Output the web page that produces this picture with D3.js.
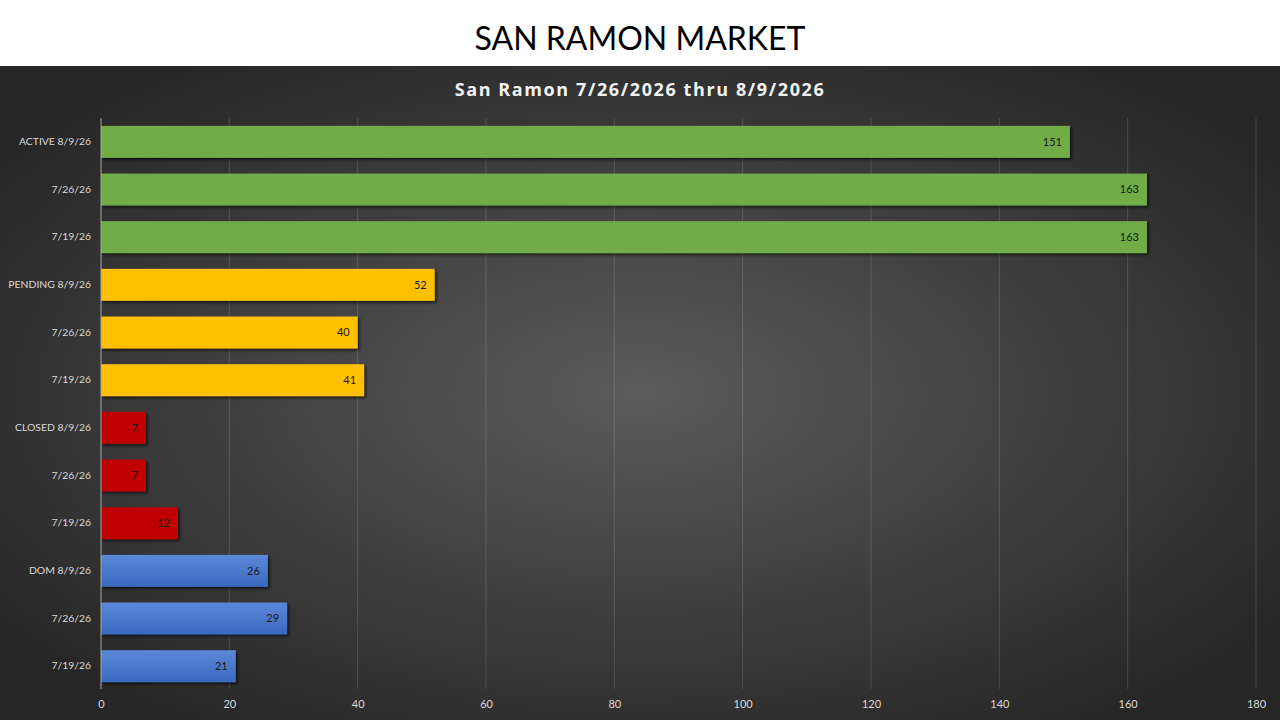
<!DOCTYPE html>
<html lang="en">
<head>
    <meta charset="UTF-8">
    <title>San Ramon Market</title>
    <style>
        html, body { margin: 0; padding: 0; background: #fff; }
        svg { display: block; }
    </style>
</head>
<body>
    <script src="https://cdn.jsdelivr.net/npm/d3@7/dist/d3.min.js"></script>
    <script type="text/javascript">
        // chart data
        var categories = ["ACTIVE 8/9/26", "7/26/26", "7/19/26",
                          "PENDING 8/9/26", "7/26/26", "7/19/26",
                          "CLOSED 8/9/26", "7/26/26", "7/19/26",
                          "DOM 8/9/26", "7/26/26", "7/19/26"];
        var values = [151, 163, 163, 52, 40, 41, 7, 7, 12, 26, 29, 21];
        var groups = ["active", "active", "active", "pending", "pending", "pending",
                      "closed", "closed", "closed", "dom", "dom", "dom"];
        var xTicks = [0, 20, 40, 60, 80, 100, 120, 140, 160, 180];

        var w = 1280, h = 720;
        var bandTop = 66;

        var svg = d3.select("body").append("svg")
            .attr("width", w)
            .attr("height", h);

        var defs = svg.append("defs");

        var bg = defs.append("radialGradient")
            .attr("id", "bg")
            .attr("cx", "50%").attr("cy", "50%").attr("r", "62%");
        bg.append("stop").attr("offset", "0%").attr("stop-color", "#5b5b5b");
        bg.append("stop").attr("offset", "100%").attr("stop-color", "#262626");

        var blue = defs.append("linearGradient")
            .attr("id", "blueGrad")
            .attr("x1", 0).attr("y1", 0).attr("x2", 0).attr("y2", 1);
        blue.append("stop").attr("offset", "0%").attr("stop-color", "#5b88d8");
        blue.append("stop").attr("offset", "100%").attr("stop-color", "#3b69bf");

        var shadow = defs.append("filter").attr("id", "shadow")
            .attr("x", "-5%").attr("y", "-20%").attr("width", "115%").attr("height", "160%");
        shadow.append("feDropShadow")
            .attr("dx", 2).attr("dy", 2).attr("stdDeviation", 1.5)
            .attr("flood-color", "#000").attr("flood-opacity", 0.6);

        // white title band
        svg.append("rect")
            .attr("x", 0).attr("y", 0)
            .attr("width", w).attr("height", bandTop)
            .attr("fill", "#ffffff");

        svg.append("text")
            .text("SAN RAMON MARKET")
            .attr("x", w / 2)
            .attr("y", 50)
            .attr("text-anchor", "middle")
            .attr("font-family", "Lato, 'Open Sans', sans-serif")
            .attr("font-size", "32px")
            .attr("fill", "#000");

        // dark chart area
        svg.append("rect")
            .attr("x", 0).attr("y", bandTop)
            .attr("width", w).attr("height", h - bandTop)
            .attr("fill", "url(#bg)");

        svg.append("text")
            .text("San Ramon 7/26/2026 thru 8/9/2026")
            .attr("x", w / 2)
            .attr("y", 96)
            .attr("text-anchor", "middle")
            .attr("font-family", "'Open Sans', sans-serif")
            .attr("font-weight", "bold")
            .attr("font-size", "18px")
            .attr("letter-spacing", "1.6px")
            .attr("fill", "#f2f2f2");

        var colors = {
            active: "#70ad47",
            pending: "#ffc000",
            closed: "#c00000",
            dom: "url(#blueGrad)"
        };

        var x = d3.scaleLinear().domain([0, 180]).range([101, 1256]);
        var y = d3.scaleBand()
            .domain(d3.range(categories.length))
            .range([118, 690])
            .paddingInner(0.33)
            .paddingOuter(0.165);

        // vertical gridlines
        svg.append("g")
            .selectAll("line")
            .data(xTicks.slice(1))
            .enter()
            .append("line")
            .attr("x1", function(d){ return x(d); })
            .attr("x2", function(d){ return x(d); })
            .attr("y1", 118)
            .attr("y2", 689)
            .attr("stroke", "#ffffff")
            .attr("stroke-opacity", 0.14)
            .attr("stroke-width", 1);

        // bars
        svg.append("g")
            .selectAll("rect")
            .data(values)
            .enter()
            .append("rect")
            .attr("x", x(0))
            .attr("y", function(d, i){ return y(i); })
            .attr("width", function(d){ return x(d) - x(0); })
            .attr("height", y.bandwidth())
            .attr("fill", function(d, i){ return colors[groups[i]]; })
            .attr("filter", "url(#shadow)");

        // value labels
        svg.append("g")
            .selectAll("text")
            .data(values)
            .enter()
            .append("text")
            .text(function(d){ return d; })
            .attr("x", function(d){ return x(d) - 8; })
            .attr("y", function(d, i){ return y(i) + y.bandwidth() / 2; })
            .attr("dy", "0.35em")
            .attr("text-anchor", "end")
            .attr("font-family", "Lato, sans-serif")
            .attr("font-size", "11px")
            .attr("fill", "#1a1a1a");

        // category axis
        var yAxis = d3.axisLeft(y)
            .tickFormat(function(i){ return categories[i]; })
            .tickSize(0)
            .tickPadding(10);
        var gy = svg.append("g")
            .attr("transform", "translate(" + x(0) + ",0)")
            .call(yAxis);
        gy.select(".domain")
            .attr("d", "M0,118V689")
            .attr("stroke", "#a6a6a6");
        gy.selectAll("text")
            .attr("font-family", "Lato, sans-serif")
            .attr("font-size", "10.4px")
            .attr("fill", "#d9d9d9");

        // value axis
        var xAxis = d3.axisBottom(x)
            .tickValues(xTicks)
            .tickSize(0)
            .tickPadding(10);
        var gx = svg.append("g")
            .attr("transform", "translate(0,690)")
            .call(xAxis);
        gx.select(".domain").remove();
        gx.selectAll("text")
            .attr("font-family", "Lato, sans-serif")
            .attr("font-size", "11px")
            .attr("fill", "#d9d9d9");
    </script>
</body>
</html>
